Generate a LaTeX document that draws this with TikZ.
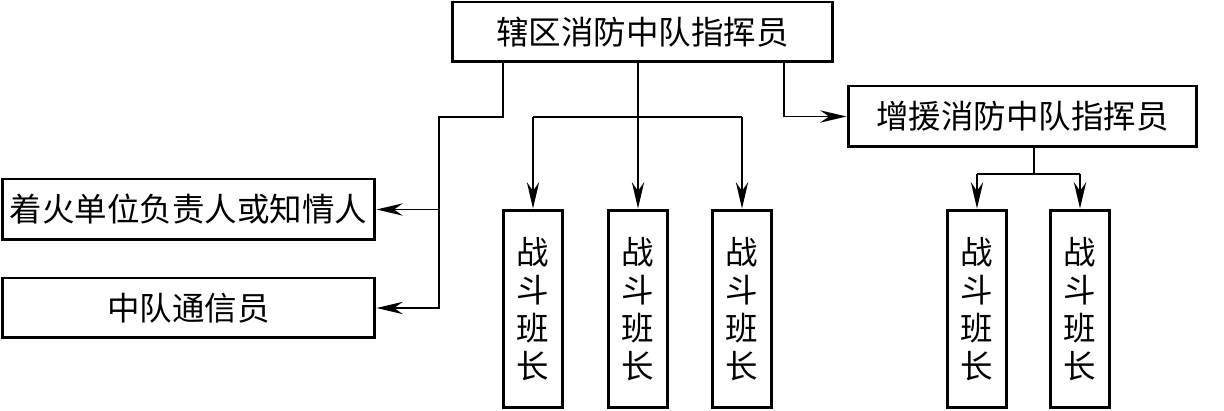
\documentclass[tikz,border=0pt]{standalone}
\usepackage{fontspec}
\setmainfont{Noto Sans CJK SC}
\usetikzlibrary{arrows.meta, positioning}

\begin{document}
\begin{tikzpicture}[x=0.02cm, y=-0.02cm,
    every node/.style={font=\fontsize{18.5}{21.5}\selectfont, align=center},
    box/.style={draw, line width=1.7pt, inner sep=0pt},
    link/.style={line width=0.9pt},
    arr/.style={link, -{Stealth[length=15pt, width=7pt, inset=5pt]}}
]
\useasboundingbox (0,0) rectangle (1224,411);
% Boxes
\node[box, minimum width=7.62cm, minimum height=1.2cm] (cmd) at (642.5,32) {辖区消防中队指挥员};
\node[box, minimum width=6.98cm, minimum height=1.22cm] (aid) at (1022.5,116.5) {增援消防中队指挥员};
\node[box, minimum width=7.46cm, minimum height=1.22cm] (fire) at (188.5,209.5) {着火单位负责人或知情人};
\node[box, minimum width=7.46cm, minimum height=1.2cm] (comm) at (188.5,308) {中队通信员};
\foreach \x/\name in {533/sq1, 638/sq2, 742/sq3, 977/sq4, 1080/sq5} {
    \node[box, minimum width=1.18cm, minimum height=3.96cm] (\name) at (\x,309) {战\\斗\\班\\长};
}
% Connectors
\coordinate (tapL) at (503,117);
\coordinate (bus) at (439,117);
\coordinate (tapR) at (784,117);
\coordinate (tapA) at (1034,174);
\draw[arr] (cmd.south -| tapL) -- (tapL) -- (bus) |- (comm.east);
\draw[arr] (bus |- fire.east) -- (fire.east);
\draw[arr] (sq2.north |- cmd.south) -- (sq2.north);
\draw[link] (sq1.north |- bus) -- (sq3.north |- bus);
\draw[arr] (sq1.north |- bus) -- (sq1.north);
\draw[arr] (sq3.north |- bus) -- (sq3.north);
\draw[arr] (cmd.south -| tapR) |- (aid.west);
\draw[link] (aid.south -| tapA) -- (tapA);
\draw[link] (sq4.north |- tapA) -- (sq5.north |- tapA);
\draw[arr] (sq4.north |- tapA) -- (sq4.north);
\draw[arr] (sq5.north |- tapA) -- (sq5.north);
\end{tikzpicture}
\end{document}
